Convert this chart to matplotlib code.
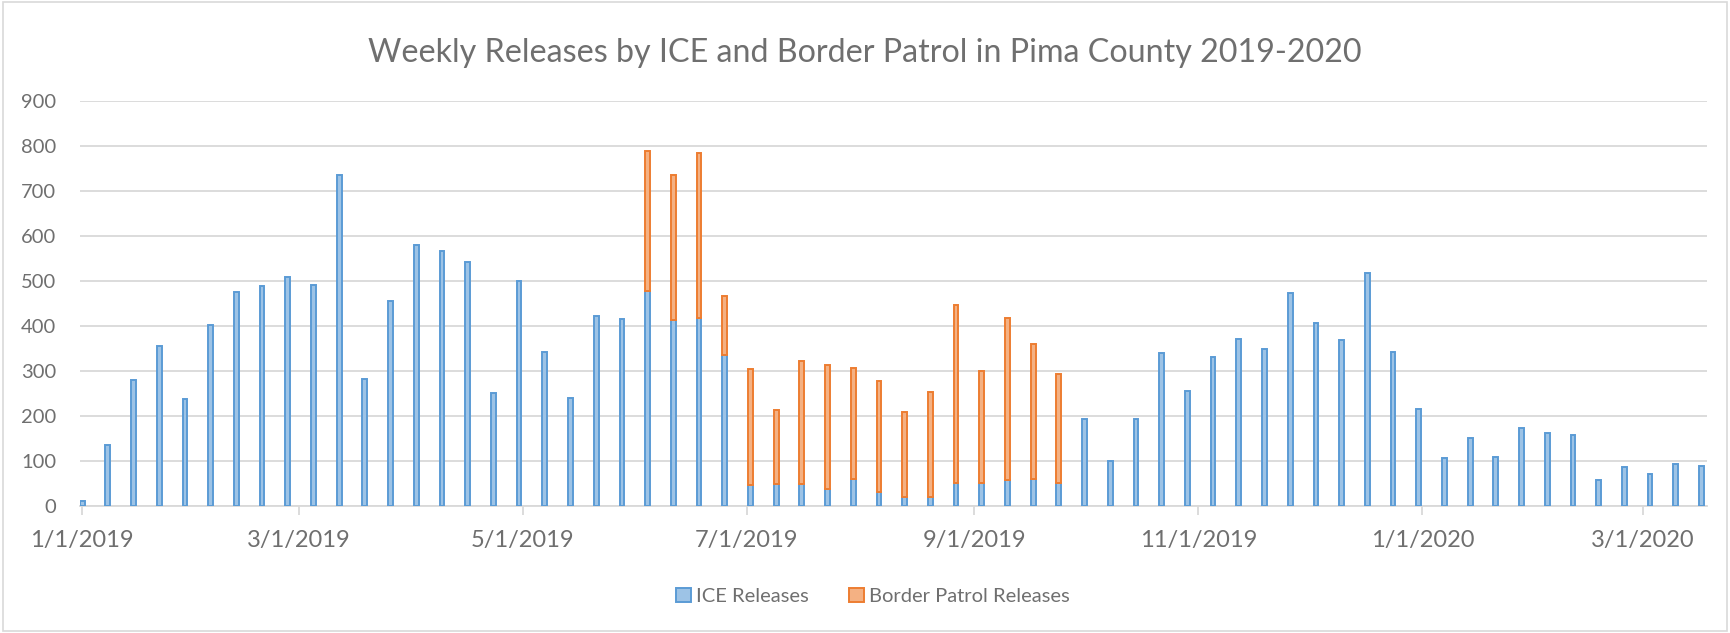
import matplotlib.pyplot as plt
import matplotlib.dates as mdates
from matplotlib.patches import Patch, Rectangle
import numpy as np
import pandas as pd

plt.rcParams['font.family'] = ['Lato', 'DejaVu Sans']

# weekly release counts, first week starting 1/1/2019
weeks = pd.date_range('2019-01-01', periods=64, freq='7D')

ice = [10, 134, 280, 356, 237, 403, 475, 489, 510, 491,
       736, 282, 456, 581, 567, 542, 251, 500, 341, 240,
       423, 415, 478, 413, 418, 336, 45, 48, 49, 36,
       59, 29, 20, 19, 51, 51, 56, 59, 51, 192,
       100, 192, 340, 254, 331, 372, 348, 474, 407, 369,
       519, 341, 215, 106, 151, 107, 172, 161, 158, 57,
       85, 71, 92, 88]

border = [0] * 22 + [311, 324, 368, 130, 260, 165, 272, 276, 248, 248,
                     189, 234, 396, 249, 362, 300, 241] + [0] * 25

tick_dates = ['2019-01-01', '2019-03-01', '2019-05-01', '2019-07-01',
              '2019-09-01', '2019-11-01', '2020-01-01', '2020-03-01']
tick_labels = ['1/1/2019', '3/1/2019', '5/1/2019', '7/1/2019',
               '9/1/2019', '11/1/2019', '1/1/2020', '3/1/2020']

grey = '#6f6f6f'
grid = '#D9D9D9'

fig = plt.figure(figsize=(17.3, 6.33), dpi=100)
ax = fig.add_axes([0.0462, 0.2014, 0.9405, 0.6383])

x = mdates.date2num(weeks)
w = 1.3
ax.bar(x, ice, width=w, color='#9DC3E6', edgecolor='#5B9BD5', linewidth=1.4, zorder=3)
bp = np.array(border)
mask = bp > 0
ax.bar(x[mask], bp[mask], bottom=np.array(ice)[mask], width=w, color='#F4B183',
       edgecolor='#ED7D31', linewidth=1.4, zorder=3)

ax.set_ylim(0, 900)
ax.set_yticks(range(0, 901, 100))
ax.set_xlim(x[0] - 0.6, x[-1] + 1.5)
ax.set_xticks(mdates.date2num(pd.to_datetime(tick_dates)))
ax.set_xticklabels(tick_labels)

ax.yaxis.grid(True, color=grid, linewidth=1.3, zorder=0)
ax.set_axisbelow(True)
for s in ['top', 'right', 'left']:
    ax.spines[s].set_visible(False)
ax.spines['bottom'].set_color(grid)
ax.spines['bottom'].set_linewidth(1.3)

ax.tick_params(axis='y', length=0, labelsize=14.5, labelcolor=grey, pad=17)
ax.tick_params(axis='x', length=6.5, width=1.3, color=grid, labelsize=17,
               labelcolor=grey, pad=11)

fig.text(0.5, 0.916, 'Weekly Releases by ICE and Border Patrol in Pima County 2019-2020',
         ha='center', va='center', fontsize=23.2, color=grey)

handles = [Patch(facecolor='#9DC3E6', edgecolor='#5B9BD5', linewidth=1.4, label='ICE Releases'),
           Patch(facecolor='#F4B183', edgecolor='#ED7D31', linewidth=1.4,
                 label='Border Patrol Releases')]
fig.legend(handles=handles, loc='center', bbox_to_anchor=(0.5046, 0.058), ncol=2,
           frameon=False, fontsize=14.5, labelcolor=grey, handlelength=0.75,
           handleheight=0.75, handletextpad=0.25, columnspacing=2.0)

fig.patches.append(Rectangle((0.002, 0.003), 0.996, 0.994, transform=fig.transFigure,
                             fill=False, edgecolor='#D9D9D9', linewidth=1.2))

fig.savefig('out.png', dpi=100)
